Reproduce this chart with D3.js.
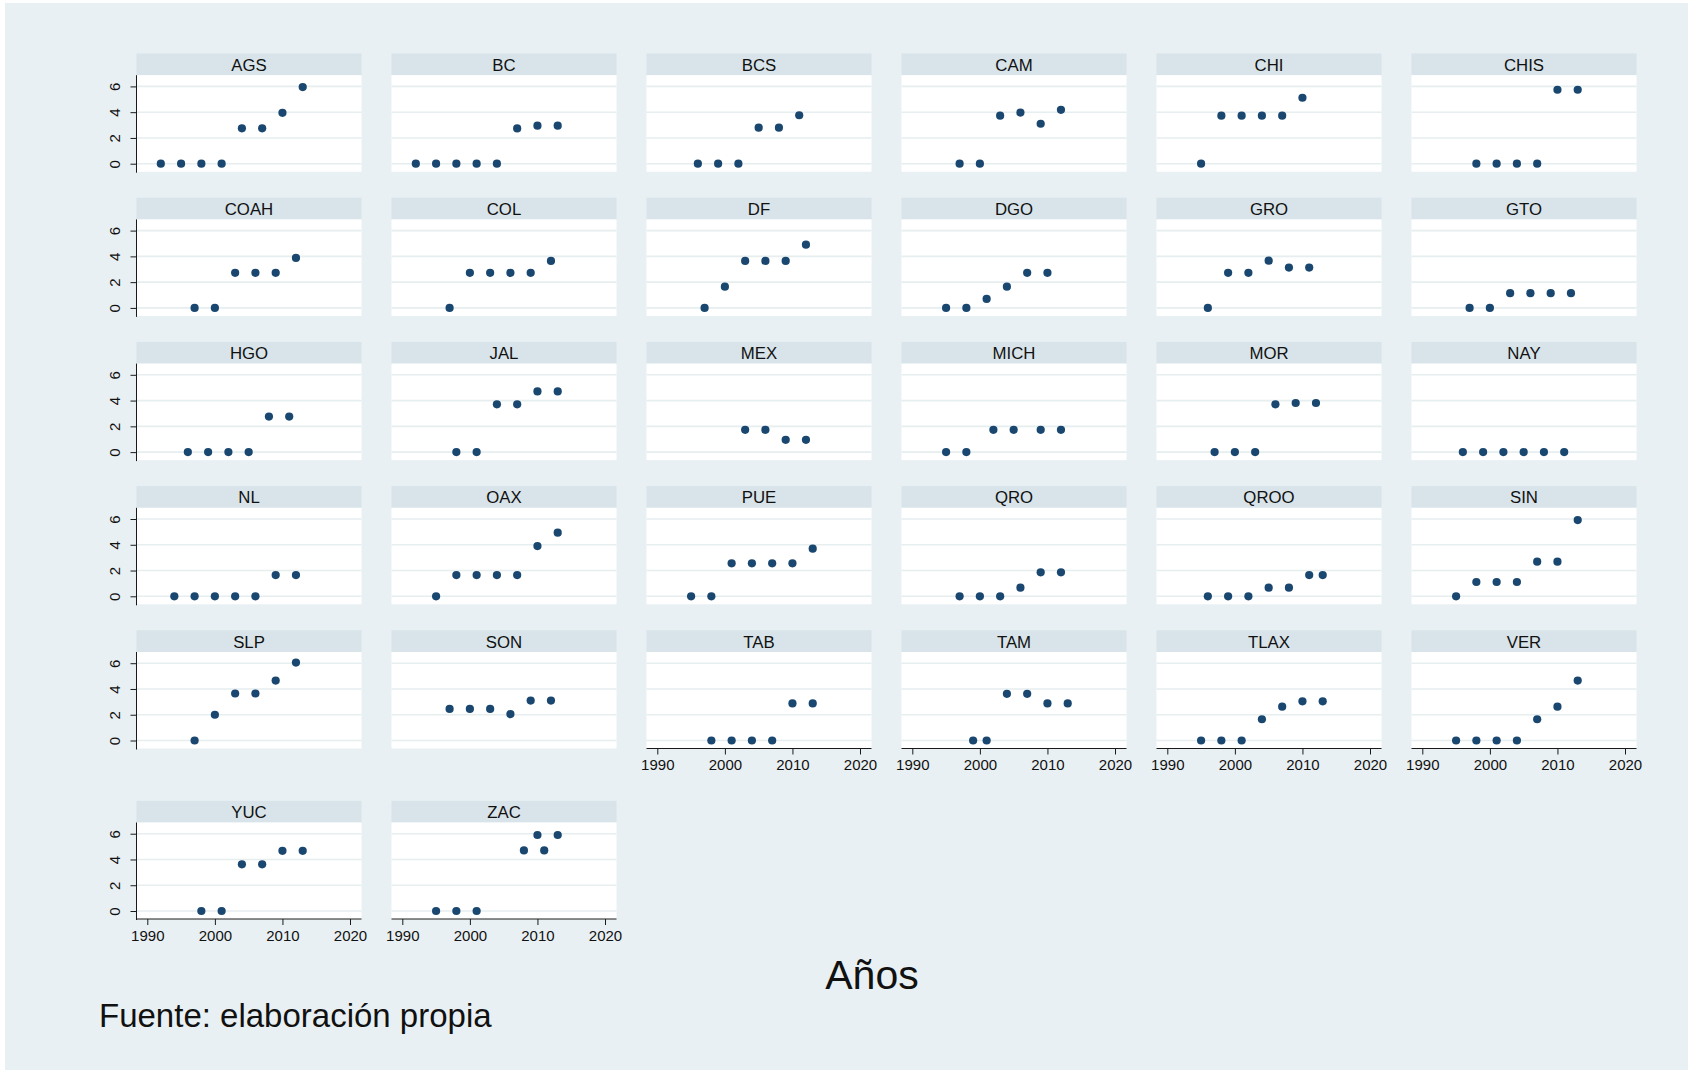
<!DOCTYPE html>
<html lang="es">
<head>
<meta charset="utf-8">
<title>Años por estado</title>
<script src="https://cdn.jsdelivr.net/npm/d3@7"></script>
<style>
  html, body { margin: 0; padding: 0; background: #ffffff; }
  svg { display: block; font-family: "Liberation Sans", Arial, Helvetica, sans-serif; }
</style>
</head>
<body>
<svg id="chart" width="1692" height="1073"></svg>
<script>
// Entidades federativas, en el orden de los paneles
const states = ["AGS","BC","BCS","CAM","CHI","CHIS",
                "COAH","COL","DF","DGO","GRO","GTO",
                "HGO","JAL","MEX","MICH","MOR","NAY",
                "NL","OAX","PUE","QRO","QROO","SIN",
                "SLP","SON","TAB","TAM","TLAX","VER",
                "YUC","ZAC"];

// Años de elección por entidad
const years = [
  [1992,1995,1998,2001,2004,2007,2010,2013], // AGS
  [1992,1995,1998,2001,2004,2007,2010,2013], // BC
  [1996,1999,2002,2005,2008,2011],           // BCS
  [1997,2000,2003,2006,2009,2012],           // CAM
  [1995,1998,2001,2004,2007,2010],           // CHI
  [1998,2001,2004,2007,2010,2013],           // CHIS
  [1997,2000,2003,2006,2009,2012],           // COAH
  [1997,2000,2003,2006,2009,2012],           // COL
  [1997,2000,2003,2006,2009,2012],           // DF
  [1995,1998,2001,2004,2007,2010],           // DGO
  [1996,1999,2002,2005,2008,2011],           // GRO
  [1997,2000,2003,2006,2009,2012],           // GTO
  [1996,1999,2002,2005,2008,2011],           // HGO
  [1998,2001,2004,2007,2010,2013],           // JAL
  [2003,2006,2009,2012],                     // MEX
  [1995,1998,2002,2005,2009,2012],           // MICH
  [1997,2000,2003,2006,2009,2012],           // MOR
  [1996,1999,2002,2005,2008,2011],           // NAY
  [1994,1997,2000,2003,2006,2009,2012],      // NL
  [1995,1998,2001,2004,2007,2010,2013],      // OAX
  [1995,1998,2001,2004,2007,2010,2013],      // PUE
  [1997,2000,2003,2006,2009,2012],           // QRO
  [1996,1999,2002,2005,2008,2011,2013],      // QROO
  [1995,1998,2001,2004,2007,2010,2013],      // SIN
  [1997,2000,2003,2006,2009,2012],           // SLP
  [1997,2000,2003,2006,2009,2012],           // SON
  [1998,2001,2004,2007,2010,2013],           // TAB
  [1999,2001,2004,2007,2010,2013],           // TAM
  [1995,1998,2001,2004,2007,2010,2013],      // TLAX
  [1995,1998,2001,2004,2007,2010,2013],      // VER
  [1998,2001,2004,2007,2010,2013],           // YUC
  [1995,1998,2001,2008,2010,2011,2013]       // ZAC
];

// Valor observado en cada elección
const values = [
  [0,0,0,0,2.75,2.75,3.95,5.95],     // AGS
  [0,0,0,0,0,2.74,2.95,2.95],        // BC
  [0,0,0,2.8,2.8,3.76],              // BCS
  [0,0,3.73,3.97,3.1,4.18],          // CAM
  [0,3.73,3.73,3.73,3.73,5.12],      // CHI
  [0,0,0,0,5.74,5.74],               // CHIS
  [0,0,2.72,2.72,2.72,3.88],         // COAH
  [0,2.72,2.72,2.72,2.72,3.65],      // COL
  [0,1.65,3.65,3.65,3.65,4.91],      // DF
  [0,0,0.7,1.65,2.72,2.72],          // DGO
  [0,2.72,2.72,3.67,3.13,3.13],      // GRO
  [0,0,1.14,1.14,1.14,1.14],         // GTO
  [0,0,0,0,2.76,2.76],               // HGO
  [0,0,3.71,3.71,4.71,4.71],         // JAL
  [1.73,1.73,0.95,0.95],             // MEX
  [0,0,1.73,1.73,1.73,1.73],         // MICH
  [0,0,0,3.71,3.81,3.81],            // MOR
  [0,0,0,0,0,0],                     // NAY
  [0,0,0,0,0,1.65,1.65],             // NL
  [0,1.65,1.65,1.65,1.65,3.9,4.94],  // OAX
  [0,0,2.56,2.56,2.56,2.56,3.7],     // PUE
  [0,0,0,0.67,1.86,1.86],            // QRO
  [0,0,0,0.67,0.67,1.65,1.65],       // QROO
  [0,1.11,1.11,1.11,2.69,2.69,5.92], // SIN
  [0,2.0,3.65,3.65,4.65,6.05],       // SLP
  [2.45,2.45,2.45,2.05,3.1,3.1],     // SON
  [0,0,0,0,2.88,2.88],               // TAB
  [0,0,3.62,3.62,2.88,2.88],         // TAM
  [0,0,0,1.65,2.63,3.04,3.04],       // TLAX
  [0,0,0,0,1.65,2.63,4.65],          // VER
  [0,0,3.62,3.62,4.67,4.67],         // YUC
  [0,0,0,4.7,5.9,4.7,5.9]            // ZAC
];

const xTicks = [1990, 2000, 2010, 2020];
const yTicks = [0, 2, 4, 6];
const xTitle = "Años";
const note = "Fuente: elaboración propia";

// ---- layout ----
const W = 1692, H = 1073;
const nCols = 6;
const colLeft0 = 136.5, colStep = 255, panelW = 225;
const rowTops = [53.5, 197.7, 341.9, 486.1, 630.3, 800.8];
const stripH = 21.7, plotH = 96.5;

const colors = {
  outer: "#e9f0f3",
  strip: "#d8e4ea",
  plot: "#ffffff",
  grid: "#e6eef0",
  marker: "#1a476f",
  axis: "#1a1a1a",
  text: "#111111"
};

const svg = d3.select("#chart");

svg.append("rect")
  .attr("x", 5).attr("y", 3)
  .attr("width", W - 9).attr("height", H - 6)
  .attr("fill", colors.outer);

const x = d3.scaleLinear().domain([1988.4, 2021.7]).range([0, panelW]);
const y = d3.scaleLinear().domain([-0.62, 6.87]).range([plotH, 0]);

const nStates = states.length;

states.forEach((name, i) => {
  const col = i % nCols, row = Math.floor(i / nCols);
  const left = colLeft0 + col * colStep;
  const top = rowTops[row];
  const g = svg.append("g").attr("transform", `translate(${left},${top})`);

  // strip with the state name
  g.append("rect")
    .attr("width", panelW).attr("height", stripH)
    .attr("fill", colors.strip);
  g.append("text")
    .attr("x", panelW / 2).attr("y", 17.3)
    .attr("text-anchor", "middle")
    .attr("font-size", 16.8)
    .attr("fill", colors.text)
    .text(name);

  const p = g.append("g").attr("transform", `translate(0,${stripH})`);
  p.append("rect")
    .attr("width", panelW).attr("height", plotH)
    .attr("fill", colors.plot);

  // horizontal grid
  p.selectAll("line.grid").data(yTicks).join("line")
    .attr("class", "grid")
    .attr("x1", 0).attr("x2", panelW)
    .attr("y1", d => y(d)).attr("y2", d => y(d))
    .attr("stroke", colors.grid)
    .attr("stroke-width", 1.6);

  // y axis on the first column
  if (col === 0) {
    const ya = p.append("g").call(
      d3.axisLeft(y).tickValues(yTicks).tickSize(6).tickPadding(3).tickFormat(d3.format("d"))
    );
    ya.select(".domain").attr("d", `M0,0V${plotH + 1}`).attr("stroke", colors.axis);
    ya.selectAll(".tick line").attr("stroke", colors.axis);
    ya.selectAll(".tick text")
      .attr("font-size", 15)
      .attr("fill", colors.text)
      .attr("font-family", "'Liberation Sans', Arial, sans-serif")
      .attr("text-anchor", "middle")
      .attr("dy", null)
      .attr("x", null)
      .attr("transform", "translate(-17,0) rotate(-90)");
  }

  // x axis where no panel sits below
  const hasBelow = i + nCols < nStates;
  if (!hasBelow) {
    const xa = p.append("g")
      .attr("transform", `translate(0,${plotH})`)
      .call(d3.axisBottom(x).tickValues(xTicks).tickSize(6).tickPadding(5).tickFormat(d3.format("d")));
    xa.select(".domain").attr("d", `M0,0H${panelW}`).attr("stroke", colors.axis);
    xa.selectAll(".tick line").attr("stroke", colors.axis);
    xa.selectAll(".tick text")
      .attr("font-size", 15)
      .attr("fill", colors.text)
      .attr("font-family", "'Liberation Sans', Arial, sans-serif");
  }

  // markers
  const pts = years[i].map((yr, k) => ({ yr, v: values[i][k] }));
  p.selectAll("circle").data(pts).join("circle")
    .attr("cx", d => x(d.yr))
    .attr("cy", d => y(d.v))
    .attr("r", 4.1)
    .attr("fill", colors.marker);
});

// axis title and source note
svg.append("text")
  .attr("x", 872).attr("y", 989)
  .attr("text-anchor", "middle")
  .attr("font-size", 41)
  .attr("fill", colors.text)
  .text(xTitle);

svg.append("text")
  .attr("x", 99).attr("y", 1027)
  .attr("font-size", 33)
  .attr("fill", colors.text)
  .text(note);
</script>
</body>
</html>
